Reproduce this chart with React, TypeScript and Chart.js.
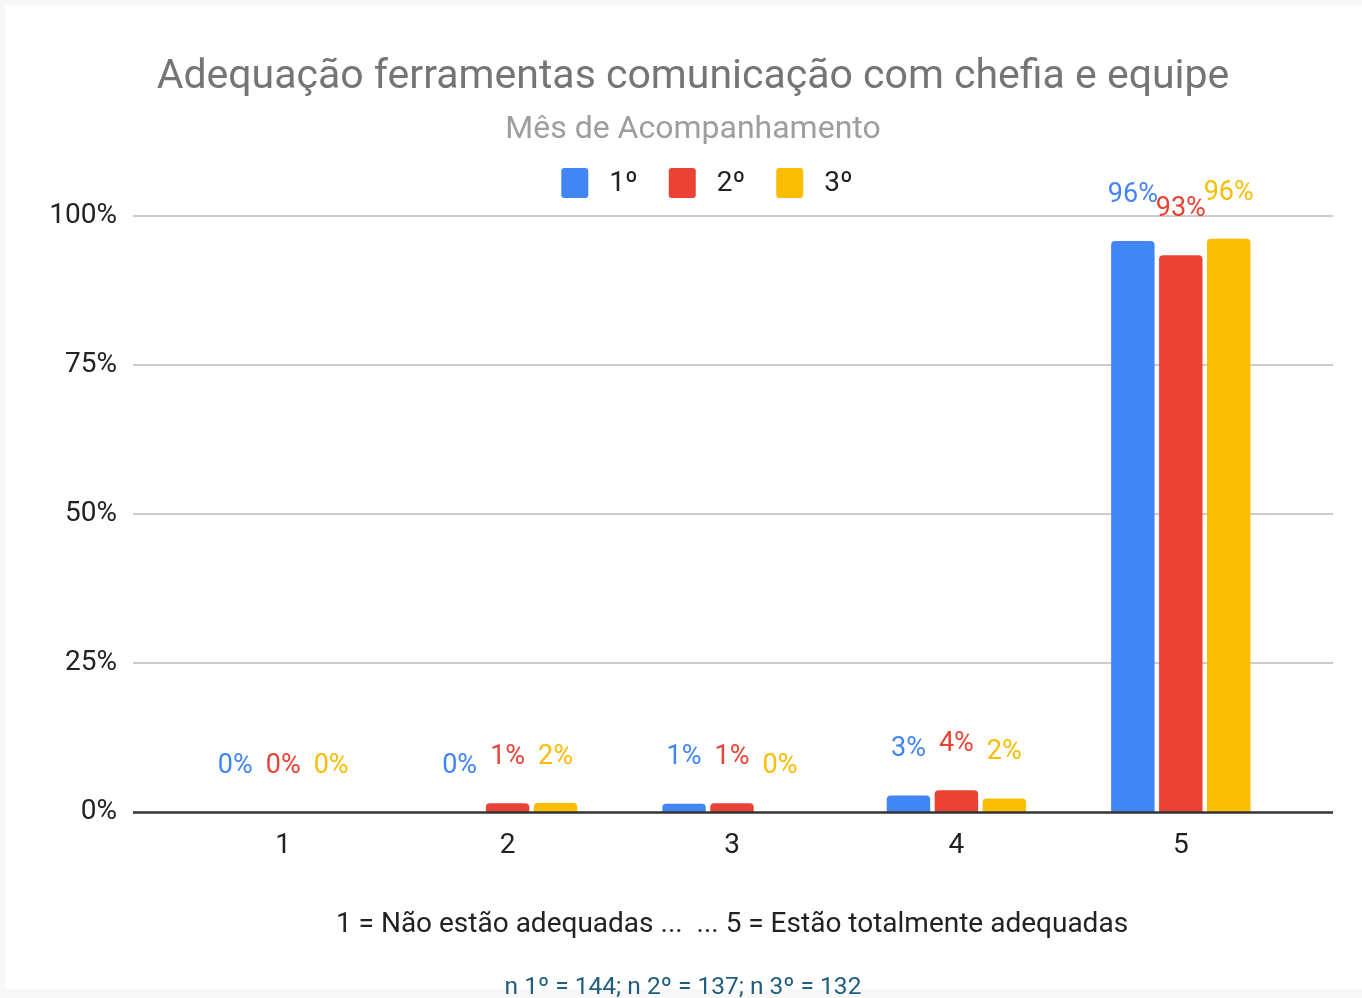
import React, { useEffect, useRef } from "react";
import { Chart, registerables } from "chart.js";

Chart.register(...registerables);

const TITLE = "Adequação ferramentas comunicação com chefia e equipe";
const SUBTITLE = "Mês de Acompanhamento";
const X_TITLE = "1 = Não estão adequadas ...  ... 5 = Estão totalmente adequadas";
const FOOTNOTE = "n 1º = 144; n 2º = 137; n 3º = 132";

const categories = ["1", "2", "3", "4", "5"];
const seriesLabels = ["1º", "2º", "3º"];
const seriesColors = ["#4285F4", "#EA4335", "#FBBC04"];
const month1 = [0, 0, 1.39, 2.78, 95.83];
const month2 = [0, 1.46, 1.46, 3.65, 93.43];
const month3 = [0, 1.52, 0, 2.27, 96.21];
const yTicks = [0, 25, 50, 75, 100];

const FONT = "Roboto, 'Noto Sans', Arial, sans-serif";

const decorPlugin = {
  id: "decor",
  beforeDraw(chart: any) {
    const { ctx, width, height } = chart;
    ctx.save();
    ctx.fillStyle = "#f8f8f8";
    ctx.fillRect(0, 0, width, height);
    ctx.fillStyle = "#ffffff";
    ctx.fillRect(5, 6, width - 5, 983);
    ctx.restore();
  },
  beforeDatasetsDraw(chart: any) {
    const { ctx, chartArea } = chart;
    const y = chart.scales.y;
    ctx.save();
    ctx.strokeStyle = "#cccccc";
    ctx.lineWidth = 2;
    yTicks.forEach((v) => {
      if (v === 0) return;
      const py = Math.round(y.getPixelForValue(v));
      ctx.beginPath();
      ctx.moveTo(chartArea.left - 38, py);
      ctx.lineTo(chartArea.right + 40, py);
      ctx.stroke();
    });
    ctx.restore();
  },
  afterDatasetsDraw(chart: any) {
    const { ctx, chartArea } = chart;
    const y = chart.scales.y;
    ctx.save();
    // baseline
    const y0 = y.getPixelForValue(0);
    ctx.strokeStyle = "#333333";
    ctx.lineWidth = 2.5;
    ctx.beginPath();
    ctx.moveTo(chartArea.left - 38, y0 + 0.5);
    ctx.lineTo(chartArea.right + 40, y0 + 0.5);
    ctx.stroke();
    // data labels
    ctx.font = `27px ${FONT}`;
    ctx.textAlign = "center";
    ctx.textBaseline = "middle";
    chart.data.datasets.forEach((ds: any, i: number) => {
      const meta = chart.getDatasetMeta(i);
      ctx.fillStyle = ds.backgroundColor;
      meta.data.forEach((bar: any, j: number) => {
        const text = Math.round(ds.data[j]) + "%";
        ctx.fillText(text, bar.x, bar.y - 46);
      });
    });
    ctx.restore();
  },
  afterDraw(chart: any) {
    const { ctx } = chart;
    ctx.save();
    // legend
    ctx.font = `28px ${FONT}`;
    ctx.textBaseline = "middle";
    ctx.textAlign = "left";
    const boxW = 27;
    const boxH = 30;
    const gapText = 21;
    const gapItem = 31;
    const widths = chart.data.datasets.map((ds: any) => boxW + gapText + ctx.measureText(ds.label).width);
    const total = widths.reduce((a: number, b: number) => a + b, 0) + gapItem * (widths.length - 1);
    let x = 707 - total / 2;
    const cy = 183;
    chart.data.datasets.forEach((ds: any, i: number) => {
      ctx.fillStyle = ds.backgroundColor;
      ctx.beginPath();
      (ctx as any).roundRect(x, cy - boxH / 2, boxW, boxH, 3);
      ctx.fill();
      ctx.fillStyle = "#222222";
      ctx.fillText(ds.label, x + boxW + gapText, cy + 1);
      x += widths[i] + gapItem;
    });
    // footnote
    ctx.font = `24.5px ${FONT}`;
    ctx.textAlign = "center";
    ctx.fillStyle = "#1f5e7e";
    ctx.fillText(FOOTNOTE, 683, 988);
    ctx.restore();
  },
};

export default function App() {
  const canvasRef = useRef<HTMLCanvasElement | null>(null);

  useEffect(() => {
    const canvas = canvasRef.current;
    if (!canvas) return;
    const series = [month1, month2, month3];
    const chart = new Chart(canvas, {
      type: "bar",
      data: {
        labels: categories,
        datasets: series.map((data, i) => ({
          label: seriesLabels[i],
          data,
          backgroundColor: seriesColors[i],
          borderWidth: 0,
          borderRadius: { topLeft: 4, topRight: 4, bottomLeft: 0, bottomRight: 0 },
          borderSkipped: "start",
          categoryPercentage: 0.641,
          barPercentage: 0.906,
          yAxisID: "y",
        })),
      },
      options: {
        responsive: false,
        animation: false,
        devicePixelRatio: 1,
        layout: { padding: { left: 32, right: 8, top: 0, bottom: 0 } },
        plugins: {
          legend: { display: false },
          tooltip: { enabled: false },
          title: {
            display: true,
            text: TITLE,
            color: "#757575",
            font: { family: FONT, size: 41, weight: "normal", lineHeight: 1.2 },
            padding: { top: 53, bottom: 0 },
          },
          subtitle: {
            display: true,
            text: SUBTITLE,
            color: "#9e9e9e",
            font: { family: FONT, size: 32, weight: "normal", lineHeight: 1.2 },
            padding: { top: 9, bottom: 66.6 },
          },
        },
        scales: {
          x: {
            grid: { display: false },
            border: { display: false },
            ticks: {
              color: "#222222",
              font: { family: FONT, size: 28 },
              padding: 9,
              maxRotation: 0,
            },
            title: {
              display: true,
              text: X_TITLE,
              color: "#222222",
              font: { family: FONT, size: 28, lineHeight: 1.2 },
              padding: { top: 0, bottom: 56 },
            },
            afterFit: (scale: any) => {
              scale.height = 186;
            },
          },
          y: {
            position: "left",
            min: 0,
            max: 100,
            grid: { display: false, drawTicks: false },
            border: { display: false },
            ticks: {
              stepSize: 25,
              color: "#222222",
              font: { family: FONT, size: 28 },
              padding: 54,
              callback: (v: any) => v + "%",
            },
            afterFit: (scale: any) => {
              scale.width = 139;
            },
          },
          yRight: {
            position: "right",
            display: true,
            grid: { display: false, drawTicks: false },
            border: { display: false },
            ticks: { display: false },
            afterFit: (scale: any) => {
              scale.width = 61;
            },
          },
        },
      },
      plugins: [decorPlugin],
    });
    return () => chart.destroy();
  }, []);

  return (
    <div style={{ position: "absolute", left: 0, top: 0, width: 1362, height: 998 }}>
      <canvas ref={canvasRef} width={1362} height={998} style={{ display: "block" }} />
    </div>
  );
}
